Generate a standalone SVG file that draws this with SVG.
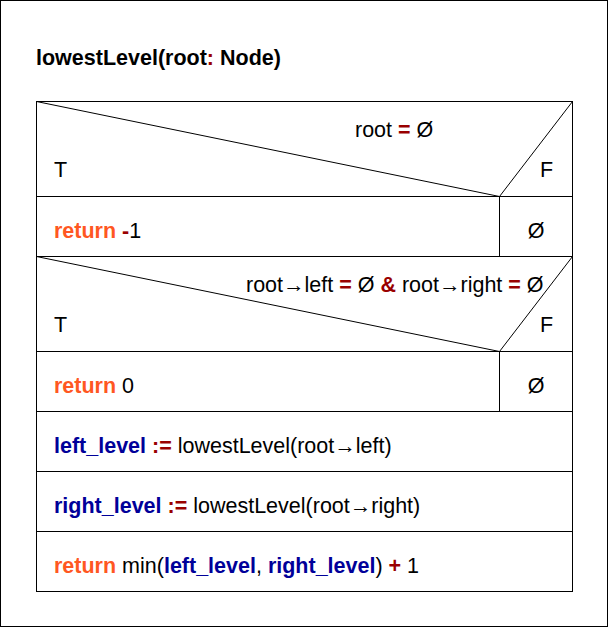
<svg xmlns="http://www.w3.org/2000/svg" width="609" height="628" viewBox="0 0 609 628">
<style>
text{font-family:"Liberation Sans",Arial,sans-serif;font-size:21.5px;fill:#000}
.b{font-weight:bold}
.kw{fill:#ff5722;font-weight:bold}
.op{fill:#990000;font-weight:bold}
.var{fill:#000099;font-weight:bold}
.ln{stroke:#000;stroke-width:1;fill:none}
</style>
<rect x="0.5" y="0.5" width="607" height="626" fill="#fff" stroke="#000"/>
<g id="title"><text x="36" y="65" class="b">lowestLevel(root<tspan class="op">:</tspan> Node)</text></g>
<g id="if1">
<rect class="ln" x="36.5" y="101.5" width="536" height="95"/>
<line class="ln" x1="36.5" y1="101.5" x2="499.5" y2="196.5"/>
<line class="ln" x1="572.5" y1="101.5" x2="499.5" y2="196.5"/>
<text x="355" y="137">root <tspan class="op">=</tspan> Ø</text>
<text x="54" y="177">T</text>
<text x="540" y="177">F</text>
</g>
<g id="if1-branches">
<rect class="ln" x="36.5" y="196.5" width="463" height="60"/>
<rect class="ln" x="499.5" y="196.5" width="73" height="60"/>
<text x="54" y="238"><tspan class="kw">return</tspan> <tspan class="op">-</tspan>1</text>
<text x="536" y="238" text-anchor="middle">Ø</text>
</g>
<g id="if2">
<rect class="ln" x="36.5" y="256.5" width="536" height="95"/>
<line class="ln" x1="36.5" y1="256.5" x2="499.5" y2="351.5"/>
<line class="ln" x1="572.5" y1="256.5" x2="499.5" y2="351.5"/>
<text x="246" y="292">root→left <tspan class="op">=</tspan> Ø <tspan class="op">&amp;</tspan> root→right <tspan class="op">=</tspan> Ø</text>
<text x="54" y="332">T</text>
<text x="540" y="332">F</text>
</g>
<g id="if2-branches">
<rect class="ln" x="36.5" y="351.5" width="463" height="60"/>
<rect class="ln" x="499.5" y="351.5" width="73" height="60"/>
<text x="54" y="393"><tspan class="kw">return</tspan> 0</text>
<text x="536" y="393" text-anchor="middle">Ø</text>
</g>
<g id="s1">
<rect class="ln" x="36.5" y="411.5" width="536" height="60"/>
<text x="54" y="453"><tspan class="var">left_level</tspan> <tspan class="op">:=</tspan> lowestLevel(root→left)</text>
</g>
<g id="s2">
<rect class="ln" x="36.5" y="471.5" width="536" height="60"/>
<text x="54" y="513"><tspan class="var">right_level</tspan> <tspan class="op">:=</tspan> lowestLevel(root→right)</text>
</g>
<g id="s3">
<rect class="ln" x="36.5" y="531.5" width="536" height="60"/>
<text x="54" y="573"><tspan class="kw">return</tspan> min(<tspan class="var">left_level</tspan>, <tspan class="var">right_level</tspan>) <tspan class="op">+</tspan> 1</text>
</g>
<g id="connectors"/>
</svg>
